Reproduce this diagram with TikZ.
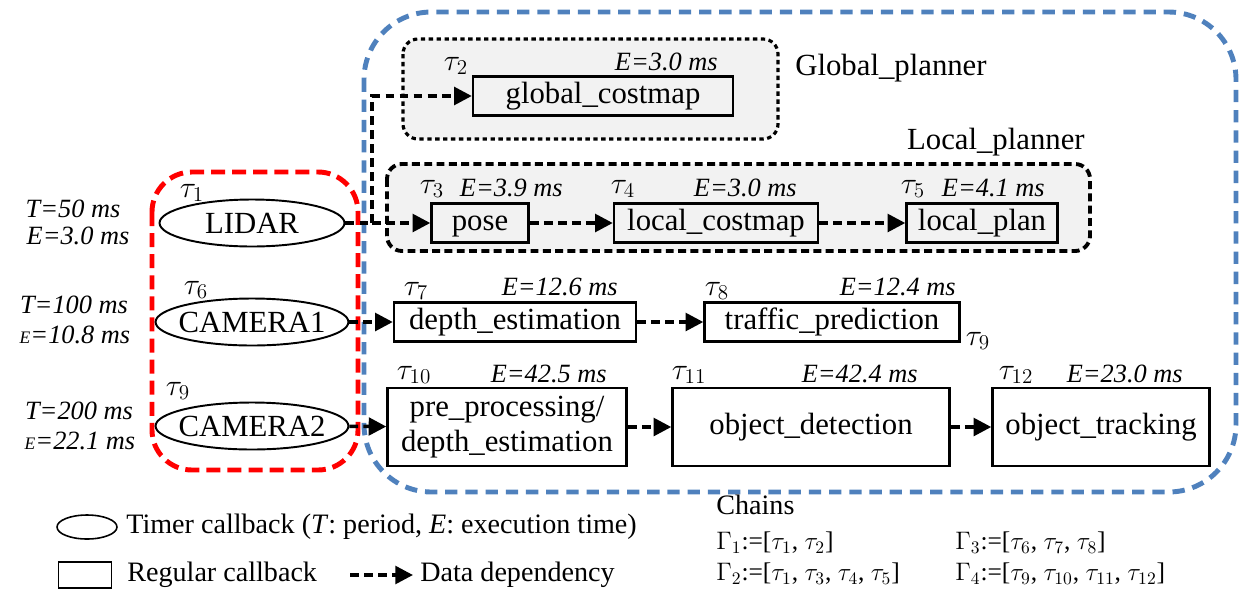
\documentclass[tikz,border=0pt]{standalone}
\usepackage{fontspec}
\setmainfont{Liberation Serif}
\usepackage{tikz}
\usetikzlibrary{positioning,arrows.meta,shapes.geometric}
\definecolor{FrameBlue}{HTML}{4F81BD}
\definecolor{FrameRed}{HTML}{FF0000}
\definecolor{GroupFill}{HTML}{F2F2F2}
\newcommand{\cbfont}{\fontsize{17.5}{20}\selectfont}
\newcommand{\annfont}{\fontsize{15}{17}\selectfont}
\newcommand{\taufont}{\fontsize{18}{20}\selectfont}
\newcommand{\legfont}{\fontsize{16}{18}\selectfont}
\newcommand{\chainfont}{\fontsize{14.5}{16}\selectfont}
\newcommand{\smallE}{{\fontsize{10}{10}\selectfont E}}

\begin{document}
\begin{tikzpicture}[x=0.02cm, y=-0.02cm,
    timer/.style={draw, ellipse, line width=1.1pt, inner xsep=-3pt, inner ysep=0pt,
      minimum width=3.7cm, minimum height=0.94cm, font=\cbfont},
    cbbox/.style={draw, line width=1.4pt, fill=white, inner sep=0pt,
      minimum height=0.78cm, font=\cbfont},
    cb/.style={cbbox, text height=1em, text depth=0.15em},
    dep/.style={line width=2pt, dash pattern=on 5pt off 3pt,
      -{Triangle[length=10pt, width=10pt]}},
    tau/.style={font=\taufont, inner sep=0pt},
    exe/.style={font=\annfont\itshape, inner sep=0pt},
    legtext/.style={font=\legfont, inner sep=0pt, anchor=west},
    grp/.style={fill=GroupFill, rounded corners=0.3cm}]
  \useasboundingbox (0,0) rectangle (1240,589);

  % executor frames
  \draw[FrameBlue, line width=2.8pt, dash pattern=on 7pt off 4.5pt,
    rounded corners=1.35cm] (364,12) rectangle (1236,492);
  \draw[FrameRed, line width=2.8pt, dash pattern=on 8pt off 4pt,
    rounded corners=0.8cm] (152,172) rectangle (358,470);

  % planner nodes
  \draw[grp, line width=1.8pt, dash pattern=on 2.5pt off 2pt] (403,39) rectangle (778,139);
  \draw[grp, line width=2.2pt, dash pattern=on 4.5pt off 2.5pt] (387,164) rectangle (1090,251);
  \node[font=\cbfont, inner sep=0pt, anchor=west] (gplanner) at (795,68) {Global\_planner};
  \node[font=\cbfont, inner sep=0pt, anchor=east] (lplanner) at (1085,142) {Local\_planner};

  % timer callbacks
  \node[timer] (lidar) at (252,223) {LIDAR};
  \node[timer] (cam1) at (252,322) {CAMERA1};
  \node[timer] (cam2) at (252,426) {CAMERA2};

  % regular callbacks
  \node[cb, fill=GroupFill, minimum width=5.2cm] (gcm) at (603,96) {global\_costmap};
  \node[cb, fill=GroupFill, minimum width=1.94cm] (pose) at (480,223) {pose};
  \node[cb, fill=GroupFill, minimum width=4.08cm] (lcm) at (716,223) {local\_costmap};
  \node[cb, fill=GroupFill, minimum width=3.02cm] (lplan) at (982,223) {local\_plan};
  \node[cb, minimum width=4.84cm] (depth) at (515,322) {depth\_estimation};
  \node[cb, minimum width=5.1cm] (traffic) at (832,322) {traffic\_prediction};
  \node[cbbox, minimum width=4.78cm, minimum height=1.56cm, align=center]
    (prep) at (507,427) {pre\_processing/\\depth\_estimation};
  \node[cb, minimum width=5.54cm, minimum height=1.56cm] (objdet) at (811,427) {object\_detection};
  \node[cb, minimum width=4.34cm, minimum height=1.56cm] (objtrk) at (1101,427) {object\_tracking};

  % data dependencies
  \coordinate (fork) at (372,223);
  \draw[dep, -] (lidar.east) -- (fork);
  \draw[dep] (fork) |- (gcm.west);
  \draw[dep] (fork) -- (pose.west);
  \draw[dep] (pose) -- (lcm);
  \draw[dep] (lcm) -- (lplan);
  \draw[dep] (cam1) -- (depth);
  \draw[dep] (depth) -- (traffic);
  \draw[dep] (cam2) -- (prep);
  \draw[dep] (prep) -- (objdet);
  \draw[dep] (objdet) -- (objtrk);

  % task ids
  \foreach \t/\x/\y [count=\n] in {1/192/193, 6/196/290, 9/178/391,
      2/456/66, 3/432/189, 4/623/189, 5/913/189, 7/416/291, 8/717/291,
      9/978/341, 10/414/375, 11/689/375, 12/1016/375}
    \node[tau] (tau\n) at (\x,\y) {$\tau_{\t}$};

  % execution times
  \foreach \v/\x/\y [count=\n] in {3.0/718/62, 3.9/563/188, 3.0/797/188,
      4.1/1045/188, 12.6/618/287, 12.4/956/287, 42.5/607/374,
      42.4/918/374, 23.0/1183/374}
    \node[exe, anchor=east] (exe\n) at (\x,\y) {E=\v\ ms};

  % periods of the timers
  \node[exe] (per1) at (73,209) {T=50 ms};
  \node[exe] (wcet1) at (78,236) {E=3.0 ms};
  \node[exe] (per2) at (74,305) {T=100 ms};
  \node[exe] (wcet2) at (75,335) {\smallE=10.8 ms};
  \node[exe] (per3) at (79,411) {T=200 ms};
  \node[exe] (wcet3) at (80,441) {\smallE=22.1 ms};

  % legend
  \node[timer, minimum width=1.2cm, minimum height=0.48cm, line width=0.9pt] (legtimer) at (87,527) {};
  \node[legtext] (legtimertxt) at (126,527) {Timer callback (\textit{T}: period, \textit{E}: execution time)};
  \node[cbbox, minimum width=1.06cm, minimum height=0.52cm, line width=1.1pt] (legcb) at (85,575) {};
  \node[legtext] (legcbtxt) at (127,575) {Regular callback};
  \coordinate (legfrom) at (350,575);
  \coordinate (legto) at (413,575);
  \draw[dep] (legfrom) -- (legto);
  \node[legtext] (legdeptxt) at (420,575) {Data dependency};

  % chains
  \node[legtext] (chains) at (716,505) {Chains};
  \node[legtext, font=\chainfont] (chain1) at (716,543) {$\Gamma_1$:=[$\tau_1$, $\tau_2$]};
  \node[legtext, font=\chainfont] (chain2) at (716,574) {$\Gamma_2$:=[$\tau_1$, $\tau_3$, $\tau_4$, $\tau_5$]};
  \node[legtext, font=\chainfont] (chain3) at (955,543) {$\Gamma_3$:=[$\tau_6$, $\tau_7$, $\tau_8$]};
  \node[legtext, font=\chainfont] (chain4) at (955,574) {$\Gamma_4$:=[$\tau_9$, $\tau_{10}$, $\tau_{11}$, $\tau_{12}$]};
\end{tikzpicture}
\end{document}
